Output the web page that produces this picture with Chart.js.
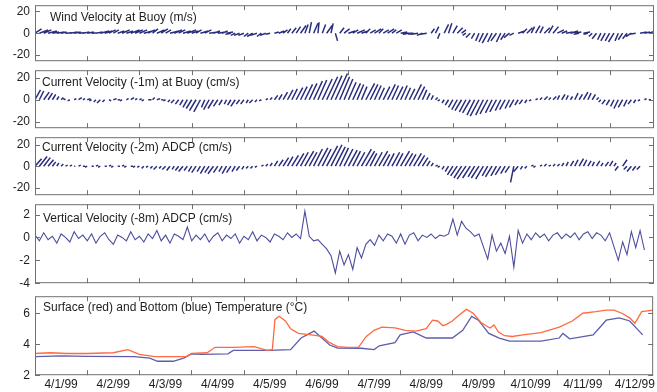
<!DOCTYPE html>
<html>
<head>
<meta charset="utf-8">
<script src="https://cdn.jsdelivr.net/npm/chart.js@4.4.0/dist/chart.umd.min.js"></script>
<style>
  body { margin: 0; background: #fff; width: 657px; height: 392px; overflow: hidden; position: relative; }
  .panel { position: absolute; left: 0; width: 657px; }
</style>
</head>
<body>
<script>
/* ── Eixo do tempo (dias desde 4/1/99 00:00) ── */
const dayLabels = ['4/1/99','4/2/99','4/3/99','4/4/99','4/5/99','4/6/99',
                   '4/7/99','4/8/99','4/9/99','4/10/99','4/11/99','4/12/99'];
const STICK_STEP = 1 / 12;  // amostras a cada 2 h
const VERT_STEP  = 1 / 12;

/* ── Vento na boia (m/s) – componentes u (leste) e v (norte) ── */
const windV = [4,3,3,2,1,1,1,0.5,1,1,0.5,1,  1,0.5,1,2,2,3,3,2,3,2,3,3,  3,2,3,4,3,4,3,2,3,3,2,3,
               2,3,2,3,1,2,1,2,1,-1,-2,-2,  -2,-3,-3,-2,-3,-2,-1,1,2,3,4,5,  6,7,8,10,9,10,8,7,9,-7,5,4,
               2,3,3,2,4,3,4,4,3,4,3,3,  1,0,-1,-1,-1,-2,-1,4,6,-5,8,9,  7,5,3,-2,-4,-5,-7,-8,-9,-8,-7,-8,
               -6,-4,-2,2,4,5,6,7,6,5,7,6,  3,2,1,2,1,-1,1,-1,-3,-5,-6,-7,  -7,-8,-7,-6,-5,-3,-1,1,1,2];
const windU = [6,8,7,8,6,7,5,6,7,6,5,6,  6,7,6,8,7,6,5,6,7,6,8,7,  7,8,6,5,7,6,5,8,7,6,7,8,
               6,5,7,6,8,6,7,5,6,-5,-4,-5,  -5,-4,-5,-6,-4,-5,-4,4,5,4,3,4,  4,5,3,2,4,1,3,5,2,2,4,5,
               6,5,7,6,4,5,6,4,5,6,4,5,  6,7,-6,-5,-6,-5,-6,3,3,-2,4,3,  4,5,4,-3,-4,-3,-3,-4,-5,-4,-5,-4,
               -4,-5,-4,6,4,5,3,4,3,5,4,5,  6,5,6,7,6,-5,6,-4,-3,-4,-3,-4,  -4,-5,-3,-4,-4,-5,-6,6,5,6];

/* ── Corrente -1 m na boia (cm/s) ── */
const cur1V = [9,8,7,6,5,3,2,1,-1,1,2,1,  1,-1,-2,-3,-2,-1,1,0,-1,1,2,1,  1,-1,0,2,1,0,-1,-2,-3,-4,-5,-7,
               -8,-10,-11,-7,-9,-8,-6,-5,-4,-5,-6,-4,  -4,-3,-3,-2,-1,1,2,4,5,7,9,10,  11,12,14,15,17,18,19,21,22,24,21,19,
               16,15,14,12,15,14,13,11,12,14,13,12,  13,11,10,14,12,9,6,4,2,-1,-3,-5,  -7,-9,-10,-11,-12,-14,-15,-14,-13,-12,-11,-10,
               -9,-8,-7,-5,-4,-3,-1,1,2,3,2,3,  4,5,4,3,6,5,7,6,5,2,-2,-4,  -5,-6,-8,-7,-6,-4,-3,-1,1,0];
const cur1U = [5,4,5,4,3,2,2,-2,-2,2,3,2,  3,-2,-2,-3,-2,2,3,2,-2,2,3,2,  2,-2,3,2,3,2,-2,-2,-3,-3,-3,-4,
               -5,-6,-6,-3,-5,-5,-4,-3,-2,-3,-4,-3,  -3,-2,-3,-2,-2,2,2,3,3,4,5,5,  6,6,7,7,8,8,9,10,10,11,9,8,
               7,7,6,5,8,7,6,5,6,7,6,6,  6,5,5,7,6,4,3,2,2,-2,-2,-3,  -4,-5,-6,-6,-7,-7,-8,-7,-7,-6,-6,-5,
               -5,-4,-4,-3,-3,-2,-2,2,2,3,2,3,  2,3,2,2,3,3,4,3,3,2,-2,-3,  -3,-3,-4,-4,-3,-3,-2,-2,2,2];

/* ── Corrente -2 m ADCP (cm/s) ── */
const cur2V = [7,9,8,6,4,3,2,1,1,0,1,0,  -1,0,1,-1,0,1,-1,0,1,-1,0,-1,  -1,-2,-1,-2,-3,-2,-3,-4,-3,-4,-5,-4,
               -5,-6,-5,-7,-6,-7,-6,-5,-7,-6,-5,-4,  -3,-2,-2,-1,1,2,3,5,6,8,9,10,  12,13,14,13,16,17,16,19,20,18,17,16,
               15,14,13,16,14,12,13,14,11,12,13,12,  14,12,11,12,10,8,5,3,1,-1,-3,-5,  -8,-9,-11,-12,-11,-10,-11,-12,-9,-10,-9,-8,
               -7,-6,-15,-5,-3,-2,1,-1,1,2,1,2,  2,3,4,5,6,7,6,5,4,5,3,4,  5,3,-4,6,-3,-5,-4,-3];
const cur2U = [6,7,6,5,3,2,2,2,2,1,2,2,  -2,2,2,-2,2,2,-2,2,2,-2,2,-2,  -2,-2,-2,-2,-3,-2,-3,-3,-2,-3,-4,-3,
               -3,-4,-3,-4,-4,-5,-4,-3,-4,-4,-3,-3,  -2,-2,-2,-2,2,2,2,3,4,5,5,6,  7,7,8,7,8,9,8,10,10,9,8,8,
               8,7,7,9,8,6,7,8,6,6,7,6,  8,7,6,7,6,5,3,2,2,-2,-2,-3,  -5,-6,-7,-8,-7,-6,-7,-7,-5,-6,-5,-5,
               -4,-4,-3,-4,-2,-2,2,-2,2,2,2,2,  2,2,2,3,3,4,3,3,2,3,2,3,  3,2,-3,4,-3,-4,-3,-3];

/* ── Velocidade vertical -8 m ADCP (cm/s) ── */
const vertW = [0.2,-0.3,0.4,-0.2,0.1,-0.5,0.3,0.0,-0.4,0.5,-0.1,0.2,
               -0.3,0.3,-0.5,0.1,0.4,-0.2,-0.6,0.2,0.0,-0.3,0.5,-0.2,
               0.1,-0.4,0.3,-0.1,0.6,-0.3,0.2,-0.5,0.3,0.1,-0.2,0.9,
               -0.3,0.2,-0.2,0.3,-0.4,0.1,0.4,-0.3,0.2,-0.1,0.3,-0.5,
               0.1,-0.2,0.5,-0.3,0.2,0.0,-0.4,0.3,0.1,-0.2,0.4,0.0,
               0.3,-0.1,2.3,0.1,-0.3,-0.2,-0.6,-1.0,-1.6,-3.1,-1.2,-2.4,
               -1.5,-2.8,-0.9,-1.8,-0.6,-0.2,-0.7,0.2,-0.3,0.3,0.1,-0.5,
               0.3,-0.6,0.2,0.4,-0.3,0.2,0.0,0.3,-0.1,0.2,0.1,0.3,
               1.6,0.2,1.4,0.8,0.5,0.1,0.3,-0.8,-1.9,0.2,-1.2,-0.5,
               -1.4,0.1,-2.6,0.6,-0.5,0.3,-0.2,0.4,0.0,0.3,-0.3,0.2,
               0.4,-0.1,0.3,0.0,0.4,-0.2,0.3,0.5,-0.1,0.4,0.2,-0.3,
               0.4,-0.8,-2.0,-0.4,-1.5,0.5,-0.9,0.6,-1.1];

/* ── Temperatura de superfície e de fundo (°C) ── */
const surfDays = [0,0.3,0.6,1.0,1.5,1.78,2.0,2.3,2.6,2.9,3.0,3.3,3.45,3.8,4.2,4.45,4.55,4.6,4.68,4.8,
                  4.9,5.05,5.3,5.5,5.65,5.8,6.0,6.2,6.35,6.5,6.65,6.9,7.1,7.3,7.5,7.62,7.72,7.82,7.9,8.0,
                  8.12,8.27,8.4,8.55,8.72,8.8,8.88,9.0,9.15,9.35,9.7,10.05,10.3,10.5,10.75,10.95,11.1,11.25,11.4,11.5,
                  11.63,11.85];
const surfTemp = [3.4,3.45,3.4,3.4,3.45,3.65,3.35,3.2,3.2,3.2,3.4,3.45,3.8,3.8,3.85,3.6,3.65,5.6,5.8,5.5,
                  5.0,4.7,4.6,4.5,4.1,3.85,3.8,3.8,4.5,4.9,5.1,5.05,4.9,4.85,5.0,5.55,5.5,5.2,5.3,5.5,
                  5.85,6.25,6.0,5.4,5.05,5.25,4.8,4.55,4.5,4.6,4.75,5.1,5.5,6.0,6.1,6.2,6.2,6.0,5.7,5.35,
                  6.1,6.2];
const botDays  = [0,0.5,1.0,1.9,2.2,2.35,2.65,2.85,3.0,3.2,3.7,3.8,4.5,4.9,5.1,5.35,5.5,5.65,5.8,6.25,
                  6.5,6.6,6.9,7.0,7.25,7.5,8.0,8.2,8.37,8.5,8.7,8.9,9.1,9.7,10.05,10.12,10.25,10.7,10.95,11.2,
                  11.4,11.65];
const botTemp  = [3.2,3.25,3.22,3.2,3.1,2.9,2.9,3.1,3.38,3.35,3.38,3.6,3.6,3.65,4.4,4.85,4.4,3.95,3.75,3.74,
                  3.65,3.9,4.1,4.6,4.8,4.4,4.4,4.9,5.8,5.55,4.7,4.4,4.2,4.2,4.4,4.7,4.35,4.6,5.55,5.7,
                  5.5,4.6];

/* ── Ticks dos eixos y ── */
const velTicks  = [-20, 0, 20];
const vertTicks = [-4, -2, 0, 2];
const tempTicks = [2, 4, 6];

/* ── Estilo ── */
const FONT = "'Liberation Sans', Arial, sans-serif";
const C = {
  stick: '#2a2d7c',
  vert:  '#4d4d9e',
  surf:  '#ff6a40',
  bot:   '#5d5dab',
  frame: '#707070',
  text:  '#1e1e1e',
};
const X_MAX = 11.85;
const STICK_K = 0.021;   // dias por unidade: mesma escala em pixels que o eixo y

/* stick plot: cada vetor sai de (t,0) até (t + u*k, v) */
function sticks(u, v, step) {
  const pts = [];
  v.forEach((vv, i) => {
    const t = i * step;
    pts.push({ x: t, y: 0 }, { x: t + u[i] * STICK_K, y: vv }, { x: t, y: null });
  });
  return pts;
}
function series(days, vals) { return vals.map((v, i) => ({ x: days[i], y: v })); }

/* moldura, ticks internos (estilo MATLAB) e título dentro do painel */
const framePlugin = {
  id: 'frame',
  afterDatasetsDraw(chart, args, o) {
    const { ctx, chartArea: a, scales } = chart;
    ctx.save();
    ctx.strokeStyle = C.frame;
    ctx.lineWidth = 1;
    ctx.strokeRect(a.left + 0.5, a.top + 0.5, a.right - a.left - 1, a.bottom - a.top - 1);
    ctx.beginPath();
    for (let d = 1; d < 12; d++) {
      const px = Math.round(scales.x.getPixelForValue(d)) + 0.5;
      ctx.moveTo(px, a.top); ctx.lineTo(px, a.top + 5);
      ctx.moveTo(px, a.bottom); ctx.lineTo(px, a.bottom - 5);
    }
    scales.y.ticks.forEach(t => {
      const py = Math.round(scales.y.getPixelForValue(t.value)) + 0.5;
      ctx.moveTo(a.left, py); ctx.lineTo(a.left + 5, py);
      ctx.moveTo(a.right, py); ctx.lineTo(a.right - 5, py);
    });
    ctx.stroke();
    ctx.fillStyle = C.text;
    ctx.font = '12px ' + FONT;
    ctx.textBaseline = 'middle';
    ctx.fillText(o.text, a.left + o.dx, a.top + o.dy);
    ctx.restore();
  }
};

/* cria um painel e ajusta o canvas para que a área do gráfico caia em [top, bottom] */
function makePanel(top, bottom, datasets, yMin, yMax, yTicks, title, showX) {
  const box = document.createElement('div');
  box.className = 'panel';
  const canvas = document.createElement('canvas');
  canvas.width = 657;
  canvas.height = bottom - top + 30;
  box.appendChild(canvas);
  document.body.appendChild(box);

  const xScale = {
    type: 'linear', min: 0, max: X_MAX, display: showX,
    grid: { display: false, drawTicks: false },
    border: { display: false },
    ticks: {
      autoSkip: false, maxRotation: 0, padding: 2,
      color: C.text, font: { size: 12, family: FONT },
      callback: (v, i) => dayLabels[i]
    }
  };
  if (showX) {
    xScale.afterBuildTicks = s => { s.ticks = dayLabels.map((l, i) => ({ value: i + 0.5 })); };
    xScale.afterFit = s => { s.height = 17; };
  }
  const chart = new Chart(canvas, {
    type: 'line',
    data: { datasets },
    options: {
      responsive: false,
      maintainAspectRatio: false,
      animation: false,
      devicePixelRatio: 1,
      layout: { padding: { top: 8, bottom: showX ? 0 : 8, left: 0, right: 3 } },
      plugins: { legend: { display: false }, tooltip: { enabled: false }, frame: title },
      elements: { point: { radius: 0 } },
      scales: {
        x: xScale,
        y: {
          type: 'linear', min: yMin, max: yMax,
          grid: { display: false, drawTicks: false },
          border: { display: false },
          afterBuildTicks: s => { s.ticks = yTicks.map(v => ({ value: v })); },
          afterFit: s => { s.width = 35; },
          ticks: { padding: 5, color: C.text, font: { size: 12, family: FONT } }
        }
      }
    },
    plugins: [framePlugin]
  });
  const a = chart.chartArea;
  const h = canvas.height + (bottom - top) - (a.bottom - a.top);
  box.style.height = h + 'px';
  chart.resize(657, h);
  box.style.top = (top - chart.chartArea.top) + 'px';
  return chart;
}

const stickStyle = { borderColor: C.stick, borderWidth: 1.5, spanGaps: false, pointRadius: 0 };

makePanel(5, 61,
  [{ ...stickStyle, data: sticks(windU, windV, STICK_STEP) }],
  -25.5, 25.5, velTicks, { text: 'Wind Velocity at Buoy (m/s)', dx: 15, dy: 12 }, false);

makePanel(70, 128,
  [{ ...stickStyle, data: sticks(cur1U, cur1V, STICK_STEP) }],
  -26, 27, velTicks, { text: 'Current Velocity (-1m) at Buoy (cm/s)', dx: 7, dy: 12 }, false);

makePanel(137, 195,
  [{ ...stickStyle, data: sticks(cur2U, cur2V, STICK_STEP) }],
  -27, 27, velTicks, { text: 'Current Velocity (-2m) ADCP (cm/s)', dx: 7, dy: 10 }, false);

makePanel(204, 283,
  [{ data: vertW.map((w, i) => ({ x: i * VERT_STEP, y: w })), borderColor: C.vert, borderWidth: 1.1, pointRadius: 0 }],
  -4, 2.9, vertTicks, { text: 'Vertical Velocity (-8m) ADCP (cm/s)', dx: 8, dy: 14 }, false);

makePanel(296, 375,
  [
    { data: series(surfDays, surfTemp), borderColor: C.surf, borderWidth: 1.3, pointRadius: 0 },
    { data: series(botDays, botTemp),   borderColor: C.bot,  borderWidth: 1.3, pointRadius: 0 }
  ],
  2, 7.1, tempTicks, { text: 'Surface (red) and Bottom (blue) Temperature (\u00B0C)', dx: 8, dy: 11 }, true);
</script>
</body>
</html>
